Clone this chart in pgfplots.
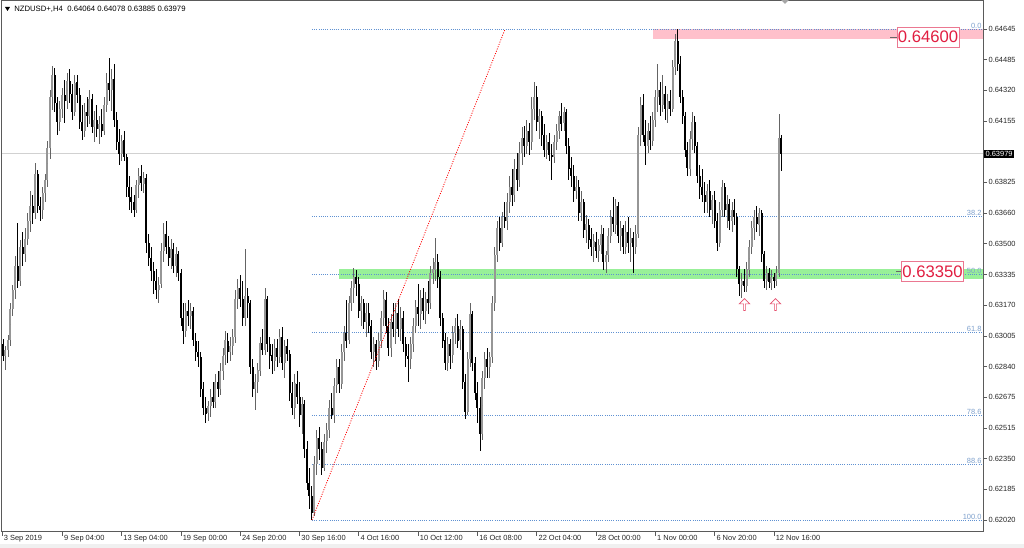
\documentclass[border=0pt]{standalone}
\usepackage{pgfplots}
\pgfplotsset{compat=1.18}
\usepackage{pgfplotstable}
\usepackage{fontspec}
\setmainfont{Liberation Sans}
\usetikzlibrary{shapes.arrows}

\definecolor{fibblue}{RGB}{95,145,210}
\definecolor{fibtext}{RGB}{125,160,205}
\definecolor{zonegreen}{RGB}{152,240,152}
\definecolor{zonepink}{RGB}{255,192,203}
\definecolor{lblred}{RGB}{225,30,65}
\definecolor{lblbox}{RGB}{235,120,145}
\definecolor{bullbody}{RGB}{150,150,150}
\definecolor{bullwick}{RGB}{100,100,100}
\definecolor{framec}{RGB}{90,90,90}
\definecolor{arrowred}{RGB}{230,80,110}
\newcommand\tinyfont{\fontsize{5.6}{6.5}\selectfont}

% NZDUSD H4 candles: bar index, open, high, low, close
\pgfplotstableread{
i o h l c
0 0.6296 0.6299 0.6287 0.6290
1 0.6290 0.6295 0.6282 0.6293
2 0.6293 0.6301 0.6289 0.6298
3 0.6298 0.6318 0.6295 0.6315
4 0.6315 0.6328 0.6311 0.6325
5 0.6325 0.6343 0.6320 0.6338
6 0.6338 0.6361 0.6326 0.6330
7 0.6330 0.6352 0.6327 0.6348
8 0.6348 0.6356 0.6338 0.6344
9 0.6344 0.6358 0.6340 0.6352
10 0.6352 0.6366 0.6349 0.6362
11 0.6362 0.6378 0.6356 0.6370
12 0.6370 0.6376 0.6360 0.6366
13 0.6366 0.6393 0.6363 0.6387
14 0.6387 0.6389 0.6366 0.6370
15 0.6370 0.6375 0.6362 0.6368
16 0.6368 0.6380 0.6363 0.6377
17 0.6377 0.6387 0.6372 0.6384
18 0.6384 0.6405 0.6380 0.6401
19 0.6401 0.6432 0.6395 0.6428
20 0.6428 0.6445 0.6421 0.6440
21 0.6440 0.6444 0.6420 0.6425
22 0.6425 0.6428 0.6408 0.6415
23 0.6415 0.6426 0.6410 0.6422
24 0.6422 0.6433 0.6417 0.6429
25 0.6429 0.6437 0.6414 0.6426
26 0.6426 0.6441 0.6422 0.6437
27 0.6437 0.6443 0.6425 0.6430
28 0.6430 0.6435 0.6416 0.6420
29 0.6420 0.6440 0.6418 0.6436
30 0.6436 0.6440 0.6425 0.6429
31 0.6429 0.6433 0.6411 0.6415
32 0.6415 0.6424 0.6405 0.6410
33 0.6410 0.6425 0.6407 0.6420
34 0.6420 0.6428 0.6412 0.6418
35 0.6418 0.6432 0.6414 0.6427
36 0.6427 0.6430 0.6409 0.6412
37 0.6412 0.6421 0.6404 0.6416
38 0.6416 0.6424 0.6407 0.6411
39 0.6411 0.6418 0.6403 0.6414
40 0.6414 0.6422 0.6407 0.6410
41 0.6410 0.6428 0.6408 0.6424
42 0.6424 0.6441 0.6420 0.6436
43 0.6436 0.6449 0.6426 0.6432
44 0.6432 0.6443 0.6421 0.6438
45 0.6438 0.6446 0.6412 0.6416
46 0.6416 0.6420 0.6400 0.6404
47 0.6404 0.6411 0.6392 0.6398
48 0.6398 0.6408 0.6394 0.6405
49 0.6405 0.6410 0.6394 0.6396
50 0.6396 0.6398 0.6375 0.6380
51 0.6380 0.6386 0.6368 0.6375
52 0.6375 0.6380 0.6366 0.6372
53 0.6372 0.6376 0.6364 0.6368
54 0.6368 0.6384 0.6366 0.6381
55 0.6381 0.6390 0.6374 0.6386
56 0.6386 0.6392 0.6378 0.6382
57 0.6382 0.6388 0.6377 0.6385
58 0.6385 0.6387 0.6345 0.6350
59 0.6350 0.6355 0.6338 0.6342
60 0.6342 0.6348 0.6330 0.6335
61 0.6335 0.6340 0.6323 0.6330
62 0.6330 0.6336 0.6320 0.6325
63 0.6325 0.6332 0.6318 0.6328
64 0.6328 0.6350 0.6326 0.6346
65 0.6346 0.6361 0.6340 0.6355
66 0.6355 0.6362 0.6344 0.6348
67 0.6348 0.6354 0.6338 0.6342
68 0.6342 0.6352 0.6336 0.6347
69 0.6347 0.6350 0.6334 0.6338
70 0.6338 0.6348 0.6332 0.6344
71 0.6344 0.6346 0.6330 0.6334
72 0.6334 0.6336 0.6306 0.6310
73 0.6310 0.6318 0.6296 0.6303
74 0.6303 0.6318 0.6300 0.6314
75 0.6314 0.6320 0.6306 0.6311
76 0.6311 0.6318 0.6304 0.6314
77 0.6314 0.6316 0.6295 0.6298
78 0.6298 0.6302 0.6287 0.6292
79 0.6292 0.6298 0.6284 0.6289
80 0.6289 0.6292 0.6268 0.6272
81 0.6272 0.6276 0.6258 0.6262
82 0.6262 0.6268 0.6254 0.6259
83 0.6259 0.6266 0.6255 0.6263
84 0.6263 0.6272 0.6257 0.6268
85 0.6268 0.6276 0.6262 0.6265
86 0.6265 0.6280 0.6262 0.6276
87 0.6276 0.6282 0.6268 0.6272
88 0.6272 0.6286 0.6269 0.6282
89 0.6282 0.6294 0.6277 0.6290
90 0.6290 0.6303 0.6285 0.6298
91 0.6298 0.6302 0.6286 0.6292
92 0.6292 0.6300 0.6287 0.6295
93 0.6295 0.6304 0.6290 0.6300
94 0.6300 0.6325 0.6297 0.6320
95 0.6320 0.6331 0.6315 0.6326
96 0.6326 0.6333 0.6316 0.6320
97 0.6320 0.6330 0.6306 0.6310
98 0.6310 0.6347 0.6306 0.6322
99 0.6322 0.6326 0.6310 0.6318
100 0.6318 0.6320 0.6280 0.6284
101 0.6284 0.6288 0.6268 0.6272
102 0.6272 0.6280 0.6261 0.6276
103 0.6276 0.6286 0.6270 0.6282
104 0.6282 0.6300 0.6279 0.6297
105 0.6297 0.6304 0.6290 0.6293
106 0.6293 0.6326 0.6290 0.6320
107 0.6320 0.6322 0.6292 0.6296
108 0.6296 0.6300 0.6283 0.6290
109 0.6290 0.6296 0.6280 0.6287
110 0.6287 0.6299 0.6282 0.6294
111 0.6294 0.6299 0.6284 0.6289
112 0.6289 0.6304 0.6286 0.6300
113 0.6300 0.6305 0.6282 0.6286
114 0.6286 0.6298 0.6278 0.6295
115 0.6295 0.6299 0.6287 0.6291
116 0.6291 0.6293 0.6266 0.6270
117 0.6270 0.6276 0.6258 0.6262
118 0.6262 0.6280 0.6256 0.6275
119 0.6275 0.6282 0.6264 0.6268
120 0.6268 0.6276 0.6252 0.6258
121 0.6258 0.6268 0.6248 0.6264
122 0.6264 0.6266 0.6235 0.6240
123 0.6240 0.6244 0.6218 0.6222
124 0.6222 0.6230 0.6208 0.6215
125 0.6215 0.6220 0.6202 0.6206
126 0.6206 0.6236 0.6204 0.6232
127 0.6232 0.6250 0.6226 0.6246
128 0.6246 0.6252 0.6234 0.6240
129 0.6240 0.6244 0.6226 0.6230
130 0.6230 0.6248 0.6228 0.6244
131 0.6244 0.6254 0.6238 0.6250
132 0.6250 0.6266 0.6246 0.6262
133 0.6262 0.6270 0.6256 0.6258
134 0.6258 0.6278 0.6254 0.6274
135 0.6274 0.6288 0.6270 0.6284
136 0.6284 0.6288 0.6270 0.6275
137 0.6275 0.6296 0.6272 0.6292
138 0.6292 0.6306 0.6287 0.6302
139 0.6302 0.6320 0.6294 0.6298
140 0.6298 0.6322 0.6296 0.6318
141 0.6318 0.6330 0.6314 0.6326
142 0.6326 0.6337 0.6318 0.6332
143 0.6332 0.6336 0.6322 0.6328
144 0.6328 0.6332 0.6310 0.6314
145 0.6314 0.6322 0.6306 0.6318
146 0.6318 0.6320 0.6304 0.6308
147 0.6308 0.6318 0.6300 0.6313
148 0.6313 0.6318 0.6302 0.6306
149 0.6306 0.6309 0.6288 0.6292
150 0.6292 0.6300 0.6284 0.6296
151 0.6296 0.6298 0.6282 0.6287
152 0.6287 0.6302 0.6284 0.6298
153 0.6298 0.6314 0.6294 0.6310
154 0.6310 0.6325 0.6306 0.6320
155 0.6320 0.6324 0.6302 0.6306
156 0.6306 0.6310 0.6290 0.6294
157 0.6294 0.6312 0.6289 0.6308
158 0.6308 0.6318 0.6300 0.6304
159 0.6304 0.6318 0.6296 0.6313
160 0.6313 0.6320 0.6300 0.6304
161 0.6304 0.6316 0.6298 0.6310
162 0.6310 0.6314 0.6292 0.6296
163 0.6296 0.6300 0.6284 0.6290
164 0.6290 0.6296 0.6276 0.6288
165 0.6288 0.6300 0.6283 0.6296
166 0.6296 0.6310 0.6292 0.6306
167 0.6306 0.6320 0.6302 0.6316
168 0.6316 0.6328 0.6306 0.6312
169 0.6312 0.6325 0.6304 0.6321
170 0.6321 0.6326 0.6309 0.6314
171 0.6314 0.6324 0.6307 0.6320
172 0.6320 0.6330 0.6312 0.6318
173 0.6318 0.6338 0.6315 0.6334
174 0.6334 0.6342 0.6328 0.6336
175 0.6336 0.6353 0.6330 0.6340
176 0.6340 0.6344 0.6326 0.6332
177 0.6332 0.6335 0.6306 0.6310
178 0.6310 0.6313 0.6294 0.6298
179 0.6298 0.6302 0.6282 0.6286
180 0.6286 0.6300 0.6282 0.6296
181 0.6296 0.6299 0.6283 0.6290
182 0.6290 0.6306 0.6286 0.6302
183 0.6302 0.6310 0.6296 0.6306
184 0.6306 0.6312 0.6294 0.6298
185 0.6298 0.6309 0.6293 0.6304
186 0.6304 0.6306 0.6272 0.6276
187 0.6276 0.6280 0.6256 0.6260
188 0.6260 0.6292 0.6258 0.6288
189 0.6288 0.6318 0.6284 0.6312
190 0.6312 0.6314 0.6282 0.6286
191 0.6286 0.6289 0.6266 0.6270
192 0.6270 0.6276 0.6254 0.6262
193 0.6262 0.6268 0.6239 0.6248
194 0.6248 0.6282 0.6245 0.6278
195 0.6278 0.6292 0.6272 0.6288
196 0.6288 0.6294 0.6278 0.6284
197 0.6284 0.6292 0.6278 0.6289
198 0.6289 0.6322 0.6286 0.6318
199 0.6318 0.6348 0.6314 0.6344
200 0.6344 0.6362 0.6340 0.6358
201 0.6358 0.6364 0.6346 0.6350
202 0.6350 0.6367 0.6348 0.6364
203 0.6364 0.6372 0.6358 0.6362
204 0.6362 0.6377 0.6357 0.6372
205 0.6372 0.6386 0.6366 0.6380
206 0.6380 0.6390 0.6370 0.6376
207 0.6376 0.6395 0.6372 0.6390
208 0.6390 0.6398 0.6378 0.6384
209 0.6384 0.6404 0.6380 0.6398
210 0.6398 0.6412 0.6392 0.6406
211 0.6406 0.6413 0.6396 0.6402
212 0.6402 0.6416 0.6398 0.6410
213 0.6410 0.6414 0.6397 0.6404
214 0.6404 0.6428 0.6400 0.6422
215 0.6422 0.6436 0.6416 0.6428
216 0.6428 0.6434 0.6410 0.6415
217 0.6415 0.6422 0.6406 0.6418
218 0.6418 0.6421 0.6402 0.6408
219 0.6408 0.6414 0.6396 0.6400
220 0.6400 0.6408 0.6395 0.6404
221 0.6404 0.6409 0.6394 0.6397
222 0.6397 0.6403 0.6384 0.6396
223 0.6396 0.6408 0.6393 0.6404
224 0.6404 0.6414 0.6400 0.6410
225 0.6410 0.6421 0.6406 0.6418
226 0.6418 0.6425 0.6410 0.6414
227 0.6414 0.6423 0.6410 0.6420
228 0.6420 0.6422 0.6398 0.6402
229 0.6402 0.6406 0.6384 0.6390
230 0.6390 0.6396 0.6380 0.6386
231 0.6386 0.6392 0.6372 0.6378
232 0.6378 0.6386 0.6374 0.6380
233 0.6380 0.6384 0.6362 0.6366
234 0.6366 0.6378 0.6362 0.6372
235 0.6372 0.6374 0.6353 0.6357
236 0.6357 0.6365 0.6350 0.6360
237 0.6360 0.6363 0.6347 0.6352
238 0.6352 0.6358 0.6343 0.6348
239 0.6348 0.6355 0.6340 0.6351
240 0.6351 0.6356 0.6342 0.6346
241 0.6346 0.6352 0.6340 0.6349
242 0.6349 0.6360 0.6344 0.6355
243 0.6355 0.6358 0.6336 0.6340
244 0.6340 0.6346 0.6334 0.6344
245 0.6344 0.6358 0.6340 0.6354
246 0.6354 0.6368 0.6350 0.6364
247 0.6364 0.6375 0.6356 0.6360
248 0.6360 0.6374 0.6355 0.6370
249 0.6370 0.6372 0.6350 0.6354
250 0.6354 0.6362 0.6346 0.6358
251 0.6358 0.6360 0.6344 0.6348
252 0.6348 0.6362 0.6344 0.6356
253 0.6356 0.6364 0.6345 0.6350
254 0.6350 0.6358 0.6340 0.6353
255 0.6353 0.6356 0.6334 0.6348
256 0.6348 0.6360 0.6344 0.6355
257 0.6355 0.6412 0.6353 0.6408
258 0.6408 0.6428 0.6402 0.6424
259 0.6424 0.6430 0.6404 0.6408
260 0.6408 0.6416 0.6392 0.6402
261 0.6402 0.6414 0.6398 0.6410
262 0.6410 0.6418 0.6400 0.6405
263 0.6405 0.6420 0.6402 0.6416
264 0.6416 0.6432 0.6412 0.6428
265 0.6428 0.6446 0.6420 0.6432
266 0.6432 0.6436 0.6418 0.6424
267 0.6424 0.6440 0.6420 0.6430
268 0.6430 0.6434 0.6416 0.6422
269 0.6422 0.6430 0.6414 0.6426
270 0.6426 0.6432 0.6418 0.6422
271 0.6422 0.6448 0.6420 0.6444
272 0.6444 0.6462 0.6440 0.6458
273 0.6458 0.64645 0.6442 0.6446
274 0.6446 0.6450 0.6425 0.6428
275 0.6428 0.6432 0.6414 0.6418
276 0.6418 0.6420 0.6396 0.6400
277 0.6400 0.6404 0.6386 0.6390
278 0.6390 0.6410 0.6386 0.6406
279 0.6406 0.6420 0.6400 0.6415
280 0.6415 0.6418 0.6398 0.6402
281 0.6402 0.6404 0.6382 0.6386
282 0.6386 0.6392 0.6374 0.6380
283 0.6380 0.6390 0.6372 0.6376
284 0.6376 0.6383 0.6366 0.6372
285 0.6372 0.6382 0.6366 0.6378
286 0.6378 0.6384 0.6364 0.6368
287 0.6368 0.6376 0.6360 0.6373
288 0.6373 0.6378 0.6358 0.6362
289 0.6362 0.6366 0.6346 0.6350
290 0.6350 0.6372 0.6348 0.6368
291 0.6368 0.6384 0.6364 0.6380
292 0.6380 0.6382 0.6364 0.6368
293 0.6368 0.6376 0.6358 0.6371
294 0.6371 0.6374 0.6357 0.6362
295 0.6362 0.6372 0.6356 0.6368
296 0.6368 0.6374 0.6360 0.6364
297 0.6364 0.6366 0.6332 0.6336
298 0.6336 0.6338 0.6322 0.6328
299 0.6328 0.6334 0.6321 0.6330
300 0.6330 0.6336 0.6324 0.6327
301 0.6327 0.6340 0.6324 0.6336
302 0.6336 0.6352 0.6332 0.6348
303 0.6348 0.6362 0.6344 0.6358
304 0.6358 0.6368 0.6352 0.6364
305 0.6364 0.6370 0.6356 0.6360
306 0.6360 0.6369 0.6354 0.6366
307 0.6366 0.6368 0.6340 0.6344
308 0.6344 0.6346 0.6326 0.6330
309 0.6330 0.6338 0.6325 0.6334
310 0.6334 0.6337 0.6326 0.6329
311 0.6329 0.6336 0.6325 0.6332
312 0.6332 0.6334 0.6326 0.6330
313 0.6330 0.6338 0.6327 0.6334
314 0.6334 0.6419 0.6332 0.6406
315 0.64064 0.64078 0.63885 0.63979
}\candles

\pgfplotsset{
  candle/.style={only marks, mark=*, mark size=0pt, mark options={draw=none, fill=none}, forget plot},
  bull/.style={restrict expr to domain={\thisrow{c}-\thisrow{o}}{0:1}},
  bear/.style={restrict expr to domain={\thisrow{c}-\thisrow{o}}{-1:-0.000001}},
}

\begin{document}
\begin{tikzpicture}[pix/.style={x=0.75pt,y=-0.75pt,shift={(-1.5pt,399pt)}}]
\begin{scope}[pix]
\path[use as bounding box] (0,0) rectangle (1024,548);
\fill[white] (0,0) rectangle (1024,548);
\fill[black!6] (0,544) rectangle (1024,548);
\end{scope}
\begin{axis}[
    at={(0,0)}, anchor=south west,
    scale only axis, width=735.75pt, height=398.25pt,
    xmin=-0.4, xmax=396.6, ymin=0.61956, ymax=0.64795,
    axis line style={framec, line width=0.75pt},
    xtick pos=bottom, ytick pos=right, yticklabel pos=right,
    tick align=outside, major tick length=3pt,
    tick style={framec, line width=0.6pt},
    ticklabel style={font=\tinyfont, text=black!85},
    yticklabel style={anchor=west, inner sep=0pt, xshift=1pt},
    xticklabel style={anchor=north west, inner sep=0pt, xshift=1.2pt, yshift=1pt},
    xtick={-0.4,24,48,72,96,120,144,168,192,216,240,264,288,312},
    xticklabels={3 Sep 2019,9 Sep 04:00,13 Sep 04:00,19 Sep 00:00,24 Sep 20:00,30 Sep 16:00,4 Oct 16:00,10 Oct 12:00,16 Oct 08:00,22 Oct 04:00,28 Oct 00:00,1 Nov 00:00,6 Nov 20:00,12 Nov 16:00},
    ytick={0.64645,0.64481,0.64317,0.64153,0.63989,0.63825,0.63661,0.63497,0.63333,0.63168,0.63004,0.62840,0.62676,0.62512,0.62348,0.62184,0.62020},
    yticklabels={0.64645,0.64485,0.64320,0.64155,,0.63825,0.63660,0.63500,0.63335,0.63170,0.63005,0.62840,0.62675,0.62515,0.62350,0.62185,0.62020},
]
% zones
\fill[zonepink] (axis cs:263.1,0.64645) rectangle (axis cs:396.6,0.64592);
\fill[zonegreen] (axis cs:136,0.63362) rectangle (axis cs:396.6,0.63309);
% current price line
\addplot[black!18, line width=0.75pt, forget plot] coordinates {(-0.4,0.63979) (396.6,0.63979)};
% fibonacci levels
\pgfplotsset{fib/.style={fibblue, line width=0.6pt, dash pattern=on 0.75pt off 0.9pt, forget plot}}
\addplot[fib] coordinates {(125.05,0.64645) (396.6,0.64645)};
\addplot[fib] coordinates {(125.05,0.636423) (396.6,0.636423)};
\addplot[fib] coordinates {(125.05,0.633325) (396.6,0.633325)};
\addplot[fib] coordinates {(125.05,0.630228) (396.6,0.630228)};
\addplot[fib] coordinates {(125.05,0.625818) (396.6,0.625818)};
\addplot[fib] coordinates {(125.05,0.623193) (396.6,0.623193)};
\addplot[fib] coordinates {(125.05,0.62020) (396.6,0.62020)};
% wicks
\addplot[candle, bull, error bars/.cd, y dir=both, y explicit, error mark=none,
    error bar style={draw=bullwick, line width=0.6pt}]
    table[x=i, y expr=(\thisrow{h}+\thisrow{l})/2, y error expr=(\thisrow{h}-\thisrow{l})/2] {\candles};
\addplot[candle, bear, error bars/.cd, y dir=both, y explicit, error mark=none,
    error bar style={draw=black, line width=0.6pt}]
    table[x=i, y expr=(\thisrow{h}+\thisrow{l})/2, y error expr=(\thisrow{h}-\thisrow{l})/2] {\candles};
% bodies
\addplot[candle, bull, error bars/.cd, y dir=both, y explicit, error mark=none,
    error bar style={draw=bullbody, line width=1.5pt}]
    table[x=i, y expr=(\thisrow{o}+\thisrow{c})/2, y error expr=abs(\thisrow{c}-\thisrow{o})/2] {\candles};
\addplot[candle, bear, error bars/.cd, y dir=both, y explicit, error mark=none,
    error bar style={draw=black, line width=1.5pt}]
    table[x=i, y expr=(\thisrow{o}+\thisrow{c})/2, y error expr=abs(\thisrow{c}-\thisrow{o})/2] {\candles};
% fibo diagonal
\addplot[red, line width=0.6pt, dash pattern=on 0.75pt off 1.1pt, forget plot] coordinates {(125.05,0.62020) (203.2,0.64645)};
% fibo level labels
\begin{scope}[every node/.style={anchor=south east, font=\tinyfont, text=fibtext, inner sep=0.4pt}]
\node at (axis cs:396.3,0.64645) {0.0};
\node at (axis cs:396.3,0.636423) {38.2};
\node at (axis cs:396.3,0.633325) {50.0};
\node at (axis cs:396.3,0.630228) {61.8};
\node at (axis cs:396.3,0.625818) {78.6};
\node at (axis cs:396.3,0.623193) {88.6};
\node at (axis cs:396.3,0.62020) {100.0};
\end{scope}
\end{axis}
\begin{scope}[pix]
% chart header
\fill[black] (5,7) -- (10,7) -- (7.5,11) -- cycle;
\node[anchor=west, inner sep=0pt, font=\fontsize{5.8}{7}\selectfont] at (14,9)
    {NZDUSD+,H4\ \ 0.64064 0.64078 0.63885 0.63979};
\fill[black!35] (781,0) -- (789,0) -- (785,4) -- cycle;
% current price marker
\node[fill=black, text=white, anchor=west, inner sep=1pt, font=\tinyfont] at (984,153.6) {0.63979};
% level labels
\draw[black!60, line width=0.6pt] (890,37) -- (897,37);
\node[draw=lblbox, fill=white, text=lblred, line width=0.6pt, inner sep=0pt,
    minimum width=46.5pt, minimum height=15pt, font=\fontsize{12.5}{13}\selectfont] at (928,37) {0.64600};
\node[draw=lblbox, fill=white, text=lblred, line width=0.6pt, inner sep=0pt,
    minimum width=46pt, minimum height=15.5pt, font=\fontsize{12.5}{13}\selectfont] at (932.5,271.5) {0.63350};
\draw[black!60, line width=0.6pt] (896,271.5) -- (901,271.5);
% arrows
\node[single arrow, draw=arrowred, fill=white, rotate=90, minimum height=9pt, minimum width=8pt,
    single arrow head extend=1.3pt, inner sep=0pt, line width=0.5pt] at (744.5,305) {};
\node[single arrow, draw=arrowred, fill=white, rotate=90, minimum height=9pt, minimum width=8pt,
    single arrow head extend=1.3pt, inner sep=0pt, line width=0.5pt] at (775.5,305) {};
\end{scope}
\end{tikzpicture}
\end{document}
